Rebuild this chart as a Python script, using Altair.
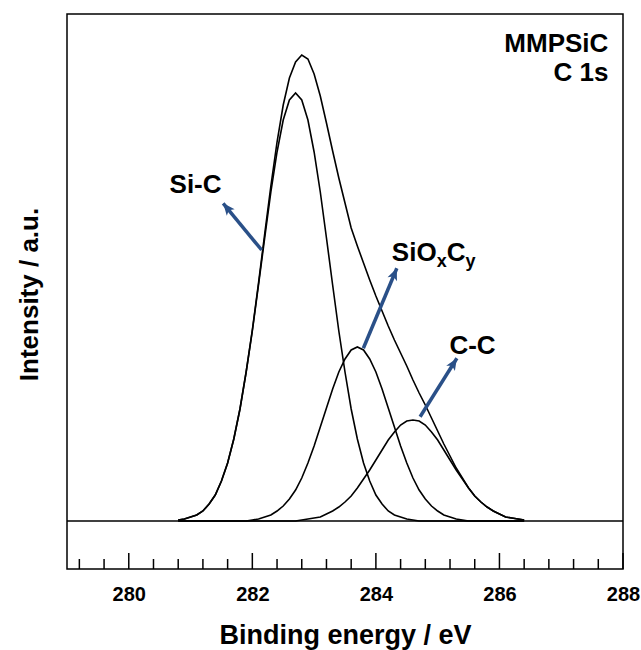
import altair as alt
import pandas as pd

# ---------------- data ----------------
energy = [280.8, 280.9, 281.0, 281.1, 281.2, 281.3, 281.4, 281.5, 281.6, 281.7,
          281.8, 281.9, 282.0, 282.1, 282.2, 282.3, 282.4, 282.5, 282.6, 282.7,
          282.8, 282.9, 283.0, 283.1, 283.2, 283.3, 283.4, 283.5, 283.6, 283.7,
          283.8, 283.9, 284.0, 284.1, 284.2, 284.3, 284.4, 284.5, 284.6, 284.7,
          284.8, 284.9, 285.0, 285.1, 285.2, 285.3, 285.4, 285.5, 285.6, 285.7,
          285.8, 285.9, 286.0, 286.1, 286.2, 286.3, 286.4]

si_c = [1, 2, 4, 6, 10, 17, 26, 40, 58, 82,
        112, 149, 190, 236, 283, 329, 369, 401, 421, 428,
        421, 401, 369, 329, 283, 236, 190, 149, 112, 82,
        58, 40, 26, 17, 10, 6, 4, 2, 1, 0,
        0, 0, 0, 0, 0, 0, 0, 0, 0, 0,
        0, 0, 0, 0, 0, 0, 0]

sioxcy = [0, 0, 0, 0, 0, 0, 0, 0, 0, 0,
          0, 0, 1, 2, 4, 6, 10, 15, 22, 31,
          43, 58, 75, 94, 113, 132, 149, 162, 171, 174,
          171, 162, 149, 132, 113, 94, 75, 58, 43, 31,
          22, 15, 10, 6, 4, 2, 1, 0, 0, 0,
          0, 0, 0, 0, 0, 0, 0]

c_c = [0, 0, 0, 0, 0, 0, 0, 0, 0, 0,
       0, 0, 0, 0, 0, 0, 0, 0, 0, 0,
       1, 2, 3, 4, 7, 10, 14, 19, 25, 33,
       42, 51, 61, 71, 81, 89, 96, 100, 101, 100,
       96, 89, 81, 71, 61, 51, 42, 33, 25, 19,
       14, 10, 7, 4, 3, 2, 1]

envelope = [1, 2, 4, 6, 10, 17, 26, 40, 58, 82,
            112, 149, 191, 238, 287, 335, 379, 416, 443, 459,
            466, 462, 447, 425, 398, 370, 343, 318, 293, 275,
            258, 241, 225, 210, 195, 181, 168, 155, 141, 128,
            116, 103, 90, 77, 65, 53, 43, 33, 25, 19,
            14, 10, 7, 4, 3, 2, 1]

baseline_x = [279.0, 288.0]
baseline_y = [0, 0]

major_ticks = [280, 282, 284, 286, 288]
minor_ticks = [279.2, 279.6, 280.4, 280.8, 281.2, 281.6, 282.4, 282.8, 283.2,
               283.6, 284.4, 284.8, 285.2, 285.6, 286.4, 286.8, 287.2, 287.6]

# annotation texts (data coordinates)
label_text = ["Si-C", "SiO", "C", "C-C"]
label_x = [280.660, 284.258, 285.146, 285.190]
label_y = [327.7, 260.3, 260.3, 167.0]

sub_text = ["x", "y"]
sub_x = [284.984, 285.451]
sub_y = [254.3, 254.3]

corner_text = ["MMPSiC", "C 1s"]
corner_x = [287.763, 287.763]
corner_y = [469.3, 440.3]

arrow_tail_x = [282.151, 283.797, 284.716]
arrow_tail_y = [271.0, 172.7, 104.3]
arrow_tip_x = [281.528, 284.339, 285.311]
arrow_tip_y = [317.7, 252.7, 162.7]
arrow_angle = [320.6, 22.7, 32.1]

# ---------------- tables ----------------
rows = []
for name, vals in [("Envelope", envelope), ("Si-C", si_c),
                   ("SiOxCy", sioxcy), ("C-C", c_c)]:
    for xv, yv in zip(energy, vals):
        rows.append({"series": name, "x": xv, "y": yv})
curves = pd.DataFrame(rows)
base_df = pd.DataFrame({"series": "base", "x": baseline_x, "y": baseline_y})
major_df = pd.DataFrame({"x": major_ticks})
minor_df = pd.DataFrame({"x": minor_ticks})
labels_df = pd.DataFrame({"t": label_text, "x": label_x, "y": label_y})
subs_df = pd.DataFrame({"t": sub_text, "x": sub_x, "y": sub_y})
corner_df = pd.DataFrame({"t": corner_text, "x": corner_x, "y": corner_y})
arrows_df = pd.DataFrame({"x": arrow_tail_x, "y": arrow_tail_y,
                          "x2": arrow_tip_x, "y2": arrow_tip_y,
                          "angle": arrow_angle})

FONT = "Liberation Sans"
W, H = 556, 555
xs = alt.Scale(domain=[279, 288], nice=False, zero=False)
ys = alt.Scale(domain=[-48, 507], nice=False, zero=False)

xaxis = alt.Axis(values=major_ticks, ticks=False, tickSize=0, domain=False,
                 grid=False, format="d", labelFlush=False,
                 labelFont=FONT, labelFontWeight="bold", labelFontSize=20,
                 labelColor="black", labelPadding=15,
                 title="Binding energy / eV", titleFont=FONT,
                 titleFontWeight="bold", titleFontSize=27, titleColor="black",
                 titleY=74, titleBaseline="alphabetic")
yaxis = alt.Axis(labels=False, ticks=False, tickSize=0, domain=False, grid=False,
                 title="Intensity / a.u.", titleFont=FONT,
                 titleFontWeight="bold", titleFontSize=26, titleColor="black",
                 titleAngle=270, titleX=-29.5, titleY=280,
                 titleAlign="center", titleBaseline="alphabetic")


def X(f):
    return alt.X(f, type="quantitative", scale=xs, axis=xaxis)


def Y(f):
    return alt.Y(f, type="quantitative", scale=ys, axis=yaxis)


curve_layer = alt.Chart(curves).mark_line(color="black", strokeWidth=1.6).encode(
    x=X("x"), y=Y("y"), detail="series:N", order="x:Q")
base_layer = alt.Chart(base_df).mark_line(color="black", strokeWidth=1.6).encode(
    x=X("x"), y=Y("y"))

major_layer = alt.Chart(major_df).mark_rule(color="black", strokeWidth=1.5).encode(
    x=X("x"), y=alt.value(H), y2=alt.value(H - 16))
minor_layer = alt.Chart(minor_df).mark_rule(color="black", strokeWidth=1.5).encode(
    x=X("x"), y=alt.value(H), y2=alt.value(H - 10))

arrow_color = "#2A5088"
arrow_lines = alt.Chart(arrows_df).mark_rule(color=arrow_color, strokeWidth=3.5).encode(
    x=X("x"), y=Y("y"), x2="x2", y2="y2")
arrow_heads = alt.Chart(arrows_df).mark_point(
    shape="M0,0L0.6,1.4L0,1.05L-0.6,1.4Z", filled=True, opacity=1,
    color=arrow_color, size=289, strokeWidth=0).encode(
    x=X("x2"), y=Y("y2"), angle=alt.Angle("angle:Q", scale=None))

label_layer = alt.Chart(labels_df).mark_text(
    align="left", baseline="alphabetic", font=FONT, fontWeight="bold",
    fontSize=26, color="black").encode(x=X("x"), y=Y("y"), text="t:N")
sub_layer = alt.Chart(subs_df).mark_text(
    align="left", baseline="alphabetic", font=FONT, fontWeight="bold",
    fontSize=18, color="black").encode(x=X("x"), y=Y("y"), text="t:N")
corner_layer = alt.Chart(corner_df).mark_text(
    align="right", baseline="alphabetic", font=FONT, fontWeight="bold",
    fontSize=26, color="black").encode(x=X("x"), y=Y("y"), text="t:N")

chart = alt.layer(
    base_layer, curve_layer, major_layer, minor_layer,
    arrow_lines, arrow_heads, label_layer, sub_layer, corner_layer
).properties(
    width=W, height=H,
    autosize=alt.AutoSizeParams(type="none"),
    padding={"left": 67, "top": 14, "right": 18, "bottom": 81},
    background="white",
).configure_view(stroke="black", strokeWidth=1.5)

chart.save("out.html", embed_options={"renderer": "svg", "actions": False})
